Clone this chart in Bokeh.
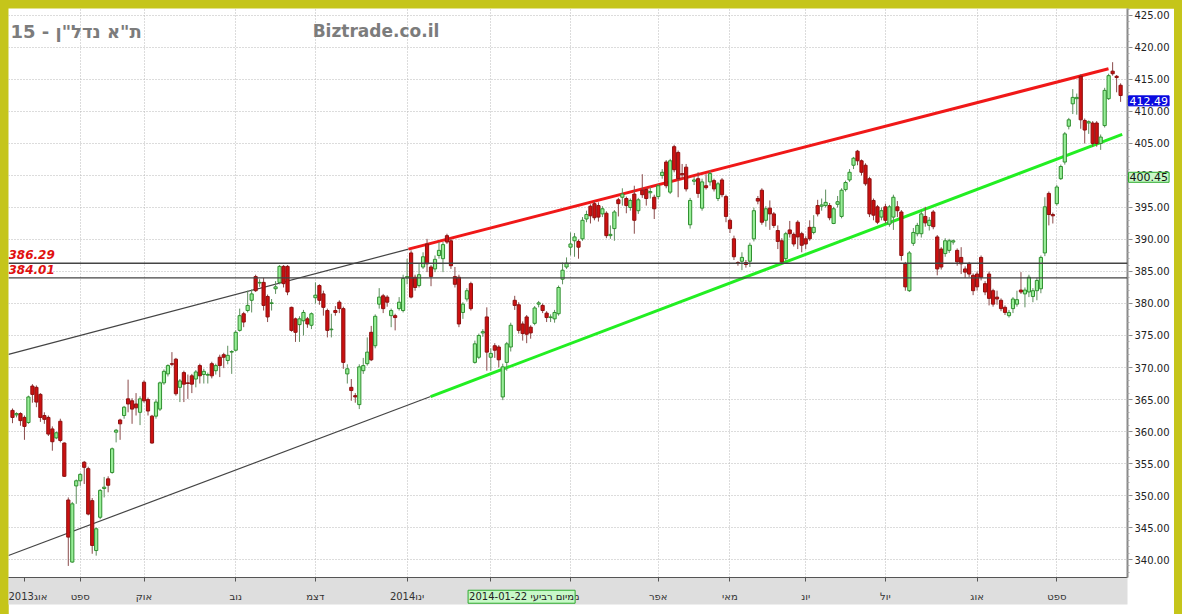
from bokeh.plotting import figure
from bokeh.models import (ColumnDataSource, FixedTicker, SingleIntervalTicker,
                          PrintfTickFormatter, Range1d, Label, Span)
from bokeh.embed import file_html
from bokeh.resources import INLINE

# ---------------- data ----------------
opens = [
    363.3, 362.6, 362.8, 362.2, 361.4, 367.1, 366.9, 365.8, 362.5, 362.2,
    360.4, 359.0, 361.6, 358.2, 349.3, 339.6, 351.5, 352.3, 355.2, 354.2,
    349.2, 341.4, 346.6, 351.1, 352.6, 353.6, 359.9, 361.8, 362.5, 365.1,
    364.8, 364.3, 363.0, 367.7, 365.0, 362.4, 362.4, 363.5, 367.6, 369.0,
    370.6, 371.3, 366.9, 369.2, 367.6, 368.7, 368.2, 370.3, 368.9, 368.8,
    370.6, 369.5, 371.6, 372.0, 371.1, 372.4, 372.7, 375.8, 378.4, 378.9,
    380.5, 384.2, 383.2, 383.3, 381.1, 380.0, 382.3, 383.3, 385.8, 385.8,
    379.4, 377.6, 376.7, 377.3, 377.6, 376.6, 380.9, 382.8, 381.5, 378.9,
    375.9, 378.9, 380.2, 379.2, 369.0, 366.9, 365.6, 364.2, 369.5, 370.6,
    375.5, 373.4, 379.9, 381.2, 381.0, 378.1, 378.1, 379.2, 378.9, 384.0,
    387.9, 384.1, 382.8, 385.7, 389.3, 385.7, 385.4, 387.5, 387.0, 390.6,
    389.8, 384.2, 384.1, 378.6, 380.7, 383.1, 370.8, 371.6, 375.4, 377.9,
    371.6, 373.4, 373.2, 365.4, 370.8, 373.2, 380.5, 379.8, 376.8, 377.9,
    376.3, 376.9, 379.9, 379.7, 378.5, 377.8, 377.6, 378.4, 383.8, 385.7,
    388.8, 389.8, 389.7, 390.1, 393.2, 395.2, 395.6, 395.3, 394.0, 394.1,
    390.6, 391.7, 396.2, 396.6, 396.4, 395.0, 397.1, 394.5, 397.7, 397.8,
    397.3, 396.6, 396.7, 400.0, 402.1, 397.4, 404.5, 403.6, 400.3, 401.3,
    392.3, 399.1, 399.5, 394.9, 398.4, 399.0, 399.2, 396.4, 399.3, 396.7,
    393.0, 390.1, 386.4, 386.6, 386.4, 386.6, 390.1, 396.4, 397.7, 393.0,
    394.9, 394.0, 391.4, 389.8, 387.0, 391.5, 390.8, 392.7, 390.9, 390.1,
    391.9, 391.1, 395.3, 395.2, 395.3, 395.3, 392.5, 395.5, 393.6, 397.8,
    399.3, 401.6, 403.8, 402.3, 401.6, 399.5, 396.1, 395.1, 393.5, 395.1,
    392.4, 393.5, 395.1, 394.3, 386.2, 382.0, 389.4, 390.9, 390.9, 393.6,
    392.2, 394.3, 390.4, 388.5, 387.8, 388.3, 389.6, 388.3, 387.2, 385.4,
    386.2, 384.4, 384.6, 387.2, 383.1, 384.6, 382.0, 381.0, 380.5, 379.4,
    378.1, 379.2, 379.9, 382.1, 381.5, 381.8, 381.1, 382.0, 382.3, 387.9,
    397.2, 393.9, 395.6, 399.5, 402.1, 407.7, 411.2, 412.0, 415.5, 408.6,
    408.2, 408.2, 408.2, 405.0, 407.8, 412.0, 416.3, 415.5, 414.1,
]
highs = [
    363.6, 363.0, 363.0, 362.5, 365.6, 367.4, 367.2, 366.0, 363.0, 362.5,
    360.8, 360.0, 362.0, 358.3, 349.7, 349.0, 352.5, 353.5, 355.4, 354.5,
    349.6, 345.0, 351.0, 352.9, 353.0, 357.5, 360.4, 362.0, 364.0, 368.1,
    365.2, 366.0, 365.5, 368.0, 365.3, 362.6, 365.0, 367.8, 369.7, 370.5,
    372.4, 371.5, 368.2, 369.5, 368.9, 369.0, 369.6, 370.6, 369.8, 369.2,
    370.9, 370.6, 372.0, 372.3, 373.4, 372.7, 375.8, 379.2, 378.7, 382.0,
    382.2, 384.5, 383.8, 384.0, 381.4, 380.7, 383.5, 386.0, 386.0, 386.0,
    379.5, 377.8, 378.0, 379.0, 377.9, 378.6, 383.3, 383.0, 382.0, 379.2,
    378.4, 379.6, 380.5, 379.5, 370.5, 368.2, 366.0, 370.5, 371.5, 374.7,
    376.5, 378.3, 382.4, 381.5, 381.3, 379.2, 378.4, 381.0, 384.5, 387.0,
    388.3, 384.5, 386.2, 388.0, 390.1, 386.0, 387.5, 389.6, 389.6, 390.9,
    390.1, 385.7, 384.5, 380.2, 382.4, 383.4, 374.2, 375.3, 376.0, 379.4,
    373.0, 373.8, 373.5, 370.6, 374.0, 377.0, 381.2, 380.2, 377.2, 378.2,
    376.6, 379.6, 380.4, 380.0, 378.8, 378.3, 379.0, 382.8, 386.4, 387.2,
    391.1, 391.0, 390.0, 393.5, 394.5, 395.5, 396.0, 395.8, 395.2, 394.4,
    392.2, 394.6, 396.5, 398.0, 396.7, 396.4, 398.4, 396.5, 400.2, 398.1,
    398.2, 397.0, 398.7, 401.0, 402.4, 402.6, 404.8, 403.9, 401.8, 401.8,
    396.5, 399.8, 400.5, 399.5, 400.2, 400.8, 399.5, 399.0, 399.6, 397.0,
    393.3, 390.6, 386.6, 388.0, 386.8, 389.5, 395.0, 396.8, 398.0, 395.2,
    396.1, 394.3, 392.2, 390.2, 391.2, 392.9, 391.1, 393.0, 391.2, 390.5,
    393.0, 393.8, 396.2, 396.4, 397.8, 395.7, 395.1, 396.8, 398.0, 399.2,
    401.0, 402.9, 404.0, 402.5, 401.9, 399.8, 396.4, 395.4, 395.0, 395.6,
    395.4, 397.0, 396.0, 394.6, 386.5, 388.2, 391.8, 392.6, 394.5, 395.1,
    393.5, 394.6, 390.7, 388.8, 390.2, 390.1, 390.0, 388.6, 388.8, 385.8,
    386.5, 384.7, 385.0, 387.5, 383.5, 385.0, 382.3, 382.0, 380.8, 379.7,
    379.0, 381.0, 382.0, 384.9, 382.5, 384.5, 382.4, 384.0, 387.5, 396.6,
    397.5, 394.2, 398.5, 401.7, 406.8, 409.0, 413.5, 412.8, 415.8, 408.9,
    408.6, 408.5, 408.5, 406.4, 413.7, 415.9, 417.7, 415.7, 414.4,
]
lows = [
    361.3, 362.2, 360.9, 358.7, 361.2, 364.5, 363.8, 361.5, 361.2, 359.3,
    357.0, 358.8, 358.3, 352.9, 339.0, 339.5, 348.7, 351.5, 351.8, 346.9,
    340.9, 340.6, 346.3, 349.7, 350.5, 353.4, 358.3, 358.7, 362.0, 363.0,
    361.2, 362.5, 361.0, 364.5, 362.5, 358.1, 362.0, 363.2, 367.3, 368.6,
    370.2, 365.6, 364.6, 364.6, 365.1, 366.0, 366.9, 367.5, 367.5, 367.5,
    368.3, 368.9, 368.5, 369.9, 370.5, 369.0, 372.5, 375.6, 376.3, 378.6,
    378.6, 381.8, 382.6, 378.9, 377.1, 378.9, 381.5, 383.0, 382.5, 381.3,
    375.6, 374.0, 374.0, 375.0, 376.2, 376.0, 380.0, 379.8, 378.1, 374.7,
    374.7, 378.1, 378.5, 369.8, 367.5, 364.8, 364.5, 363.5, 369.0, 370.3,
    371.0, 373.0, 379.2, 378.5, 379.5, 376.3, 375.8, 378.9, 378.6, 383.0,
    380.8, 382.0, 382.5, 385.4, 384.9, 382.7, 384.9, 387.0, 384.9, 389.3,
    385.4, 382.5, 376.3, 377.6, 380.3, 378.9, 370.6, 371.3, 374.8, 369.5,
    369.5, 371.5, 370.0, 364.9, 369.5, 372.5, 379.0, 375.3, 374.2, 373.8,
    374.5, 376.6, 379.4, 378.5, 377.1, 377.1, 377.0, 378.1, 383.0, 385.4,
    387.5, 387.3, 387.0, 389.8, 392.7, 392.5, 393.0, 392.8, 393.5, 390.2,
    390.1, 389.8, 393.6, 395.3, 394.1, 394.5, 390.9, 394.0, 396.5, 395.3,
    396.4, 393.2, 396.3, 399.5, 398.0, 397.1, 400.5, 396.6, 399.5, 397.5,
    391.7, 398.5, 396.5, 394.5, 397.8, 398.4, 397.5, 396.0, 396.6, 392.7,
    391.0, 386.8, 385.9, 385.2, 385.6, 385.7, 389.7, 395.5, 392.3, 392.0,
    391.5, 391.8, 388.5, 386.3, 386.6, 390.3, 388.9, 388.5, 388.0, 388.5,
    389.8, 390.8, 393.6, 394.5, 395.0, 393.0, 392.4, 395.0, 393.3, 397.5,
    399.0, 401.0, 401.6, 400.0, 398.4, 393.5, 393.0, 392.4, 393.0, 392.5,
    392.0, 391.5, 393.5, 386.7, 382.0, 381.8, 389.0, 390.5, 390.3, 392.0,
    391.4, 391.6, 384.4, 385.3, 387.3, 387.9, 389.2, 385.9, 384.6, 384.0,
    384.1, 381.3, 382.0, 383.6, 381.3, 379.7, 379.5, 379.8, 378.8, 378.2,
    377.8, 378.5, 379.5, 381.5, 379.4, 381.0, 380.2, 380.5, 381.6, 387.4,
    392.2, 392.5, 395.3, 399.3, 401.7, 407.2, 409.6, 409.5, 407.3, 405.0,
    406.5, 404.5, 404.5, 404.0, 407.5, 411.8, 415.6, 413.0, 411.5,
]
closes = [
    362.2, 362.8, 361.7, 360.8, 365.4, 365.8, 364.6, 362.2, 361.9, 359.6,
    358.4, 359.8, 358.6, 353.0, 343.5, 348.7, 352.3, 353.3, 354.4, 347.1,
    342.2, 344.8, 350.8, 351.3, 351.6, 357.3, 360.2, 361.2, 363.8, 364.3,
    363.5, 363.7, 365.1, 364.8, 363.2, 358.2, 364.6, 367.6, 369.4, 370.3,
    370.5, 365.9, 367.9, 367.4, 367.5, 367.4, 369.3, 368.7, 369.4, 368.9,
    368.7, 370.3, 370.3, 371.6, 371.9, 372.5, 375.5, 378.1, 377.1, 379.7,
    381.5, 382.0, 383.3, 379.7, 377.9, 380.1, 382.6, 385.8, 383.1, 381.8,
    375.8, 375.5, 377.6, 378.6, 376.8, 378.4, 381.3, 380.5, 379.4, 375.8,
    376.0, 378.6, 379.2, 370.8, 369.8, 366.4, 365.4, 370.1, 370.3, 372.4,
    371.2, 378.0, 381.0, 379.2, 380.2, 378.9, 377.8, 380.2, 383.9, 384.2,
    381.0, 382.5, 384.5, 387.3, 386.2, 384.2, 386.9, 388.3, 389.2, 389.6,
    385.9, 383.0, 376.8, 379.9, 382.0, 379.2, 373.7, 375.0, 375.6, 372.4,
    372.2, 372.7, 371.2, 370.1, 373.7, 376.6, 379.7, 375.8, 375.3, 375.2,
    375.4, 379.3, 380.1, 378.9, 377.8, 377.9, 378.6, 382.5, 385.2, 386.3,
    389.3, 390.4, 388.8, 393.0, 393.9, 393.7, 393.4, 393.5, 394.8, 390.6,
    390.8, 394.3, 395.6, 397.1, 395.3, 396.1, 393.0, 396.2, 397.0, 396.4,
    397.5, 394.8, 398.4, 400.5, 398.4, 402.3, 400.9, 399.5, 400.1, 397.9,
    396.1, 399.3, 397.2, 399.0, 398.1, 400.3, 397.9, 398.7, 397.0, 393.6,
    391.7, 387.3, 386.3, 387.2, 386.1, 389.1, 394.5, 396.0, 392.7, 394.8,
    394.0, 392.2, 389.7, 386.5, 390.9, 390.9, 389.3, 390.4, 389.1, 389.3,
    390.1, 391.9, 394.0, 395.4, 395.8, 393.4, 394.8, 395.9, 397.7, 398.9,
    400.5, 402.7, 402.3, 400.5, 398.7, 394.0, 393.8, 392.7, 394.5, 393.0,
    395.1, 396.6, 394.5, 387.5, 382.6, 387.9, 391.1, 392.2, 394.0, 392.6,
    393.0, 392.0, 385.4, 385.7, 389.8, 389.8, 389.8, 386.5, 386.2, 384.9,
    384.6, 382.0, 382.6, 384.1, 381.8, 380.8, 379.9, 380.7, 379.2, 378.6,
    378.6, 380.7, 380.6, 381.8, 382.1, 384.1, 382.0, 383.6, 387.2, 395.1,
    393.9, 393.7, 398.2, 401.4, 406.5, 408.7, 412.2, 412.2, 408.7, 407.1,
    408.4, 405.0, 405.0, 406.0, 413.3, 415.6, 415.9, 415.3, 412.49,
]

month_ticks = [3, 17, 33, 56, 76, 99, 120, 140, 162, 180, 199, 219, 242, 262]
month_labels = ["אוג2013", "ספט", "אוק", "נוב", "דצמ", "ינו2014", "פבר", "מרץ",
                "אפר", "מאי", "יונ", "יול", "אוג", "ספט"]

level_values = [386.29, 384.01]
upper_ext_x = [-1.0, 99.35]
upper_ext_y = [372.05, 388.5]
upper_x = [99.35, 274.97]
upper_y = [388.5, 416.67]
lower_ext_x = [-1.0, 104.9]
lower_ext_y = [340.62, 365.46]
lower_x = [104.9, 278.4]
lower_y = [365.46, 406.41]
last_close = 412.49
indicator_value = 400.45
cursor_text = "מיום רביעי 2014-01-22"
cursor_x = 114.3
title_text = 'ת"א נדל"ן - 15'
site_text = "Biztrade.co.il"

# ---------------- figure ----------------
FONT = "DejaVu Sans"
p = figure(frame_width=1119, frame_height=569,
           x_range=Range1d(-1.0, 279.73), y_range=Range1d(337.19, 426.09),
           y_axis_location="right", toolbar_location=None, output_backend="svg",
           min_border_left=0, min_border_top=0, min_border_right=45, min_border_bottom=27,
           background_fill_color="white", border_fill_color="white",
           outline_line_color=None)

ya = p.yaxis[0]
ya.ticker = SingleIntervalTicker(interval=5, num_minor_ticks=5)
ya.formatter = PrintfTickFormatter(format="%.2f")
ya.major_label_text_font = FONT
ya.major_label_text_font_size = "10px"
ya.major_label_text_color = "#222222"
ya.axis_line_color = "#8a8a8a"
ya.axis_line_width = 2
ya.major_tick_line_color = "#8a8a8a"
ya.minor_tick_line_color = "#aaaaaa"
ya.major_tick_out = 5
ya.major_tick_in = 0
ya.minor_tick_out = 2
ya.minor_tick_in = 0
ya.major_label_standoff = 2

xa = p.xaxis[0]
xa.ticker = FixedTicker(ticks=month_ticks)
xa.major_label_overrides = {t: l for t, l in zip(month_ticks, month_labels)}
xa.major_label_text_font = FONT
xa.major_label_text_font_size = "10px"
xa.major_label_text_color = "#333333"
xa.axis_line_color = "#555555"
xa.axis_line_width = 1
xa.major_tick_line_color = "#555555"
xa.major_tick_out = 4
xa.major_tick_in = 0
xa.minor_tick_line_color = None
xa.major_label_standoff = 9
xa.background_fill_color = "#dedede"

p.xgrid.ticker = FixedTicker(ticks=month_ticks[1:])
for g in (p.xgrid[0], p.ygrid[0]):
    g.grid_line_color = "#b8b8b8"
    g.grid_line_dash = "1 2"
    g.grid_line_width = 1

for v in level_values:
    p.add_layout(Span(location=v, dimension="width", line_color="#444444", line_width=1.3))

p.line(upper_ext_x, upper_ext_y, line_color="#444444", line_width=1.2)
p.line(lower_ext_x, lower_ext_y, line_color="#444444", line_width=1.2)
p.line(upper_x, upper_y, line_color="#f01818", line_width=3)
p.line(lower_x, lower_y, line_color="#22ee22", line_width=3)

idx = list(range(len(opens)))
up = [c >= o for o, c in zip(opens, closes)]
src = ColumnDataSource(dict(
    x=idx,
    top=[max(o, c) for o, c in zip(opens, closes)],
    bottom=[min(o, c) for o, c in zip(opens, closes)],
    high=highs, low=lows,
    fill=["#98ee98" if u else "#cc1010" for u in up],
    line=["#2f8f2f" if u else "#8e1010" for u in up],
    wick=["#5f8f5f" if u else "#8a4a4a" for u in up],
))
p.segment(x0="x", y0="high", x1="x", y1="low", source=src, line_color="wick", line_width=1)
p.vbar(x="x", width=0.8, top="top", bottom="bottom", source=src,
       fill_color="fill", line_color="line", line_width=1)

p.add_layout(Label(x=-0.5, y=424.1, text=title_text, text_font=FONT, text_font_style="bold",
                   text_font_size="18px", text_color="#7c7c7c", text_baseline="top"))
p.add_layout(Label(x=75.3, y=424.1, text=site_text, text_font=FONT, text_font_style="bold",
                   text_font_size="17px", text_color="#7c7c7c", text_baseline="top"))
for v in level_values:
    p.add_layout(Label(x=-1.0, y=v + 0.6, text=f"{v:.2f}", text_font=FONT,
                       text_font_style="bold italic", text_font_size="12px",
                       text_color="#e01010", text_baseline="bottom"))

# badges on the price axis and the cursor date on the time axis (side panels, unclipped)
p.add_layout(Label(x=280.0, y=last_close - 0.05, text=f"{last_close:.2f}", text_font=FONT,
                   text_font_size="11px", text_color="white", text_baseline="top",
                   padding=1,
                   background_fill_color="#0a0ae0", border_line_color="#0a0ae0"), "right")
p.add_layout(Label(x=280.0, y=indicator_value + 0.05, text=f"{indicator_value:.2f}",
                   text_font=FONT, text_font_size="11px", text_color="#111111",
                   text_baseline="top", padding=1, background_fill_color="#c8f8c8",
                   border_line_color="#2daa2d"), "right")
p.add_layout(Label(x=cursor_x, y=335.2, text=cursor_text, text_font=FONT,
                   text_font_size="10px", text_color="#222222", text_baseline="top",
                   padding=1,
                   background_fill_color="#c8f8c8", border_line_color="#2daa2d"), "below")

html = file_html(p, INLINE)
html = html.replace("</head>", "<style>html,body{background:#c5c51a;margin:0;}body{margin:8px !important;}</style></head>", 1)
open("out.html", "w").write(html)
